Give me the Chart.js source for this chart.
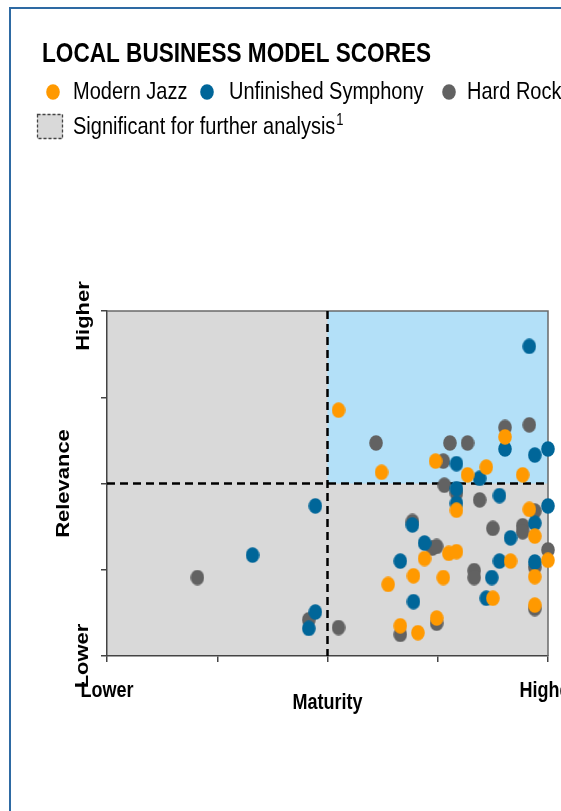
<!DOCTYPE html>
<html>
<head>
<meta charset="utf-8">
<script src="https://cdn.jsdelivr.net/npm/chart.js@4/dist/chart.umd.min.js"></script>
<style>
  html, body { margin: 0; padding: 0; background: #ffffff; overflow: hidden; }
  canvas { display: block; }
</style>
</head>
<body>
<canvas id="scores" width="561" height="811"></canvas>
<script>
// ---- data -------------------------------------------------------------
const chartTitle = 'LOCAL BUSINESS MODEL SCORES';
const seriesNames = ['Modern Jazz', 'Unfinished Symphony', 'Hard Rock'];
const seriesColors = ['#FF9900', '#006699', '#626262'];
const noteLabel = 'Significant for further analysis';
const noteMark = '1';

const xTickLabels = ['Lower', 'Higher'];
const yTickLabels = ['Lower', 'Higher'];
const xAxisTitle = 'Maturity';
const yAxisTitle = 'Relevance';

// maturity (x) and relevance (y) scores, scale 0..4
const modernJazzX = [2.10, 2.49, 2.98, 3.27, 3.44, 3.61, 3.77, 3.17, 3.83, 3.88, 4.00, 3.66,
                     3.88, 3.50, 3.88, 2.88, 3.10, 3.17, 2.78, 3.05, 2.55, 2.66, 2.82, 2.99];
const modernJazzY = [2.85, 2.13, 2.26, 2.10, 2.19, 2.54, 2.10, 1.69, 1.70, 1.39, 1.11, 1.10,
                     0.92, 0.67, 0.59, 1.13, 1.19, 1.21, 0.93, 0.91, 0.83, 0.35, 0.27, 0.44];

const symphonyX = [3.83, 3.61, 3.88, 4.00, 3.17, 3.38, 3.17, 3.17, 3.56, 4.00, 3.88, 3.66,
                   3.56, 3.88, 3.49, 3.44, 2.77, 2.88, 2.66, 2.78, 1.89, 1.32, 1.89, 1.83];
const symphonyY = [3.59, 2.40, 2.33, 2.40, 2.23, 2.06, 1.94, 1.77, 1.86, 1.74, 1.54, 1.37,
                   1.10, 1.09, 0.91, 0.67, 1.52, 1.31, 1.10, 0.63, 1.74, 1.17, 0.51, 0.32];

const hardRockX = [2.44, 3.11, 3.27, 3.05, 3.61, 3.83, 3.06, 3.17, 3.38, 3.88, 3.77, 3.77, 3.50,
                   4.00, 3.88, 3.33, 3.33, 3.88, 2.77, 2.95, 2.99, 2.66, 2.99, 2.10, 0.82, 1.83];
const hardRockY = [2.47, 2.47, 2.47, 2.26, 2.65, 2.68, 1.98, 1.89, 1.81, 1.68, 1.51, 1.44, 1.48,
                   1.23, 1.03, 0.99, 0.91, 0.55, 1.56, 1.25, 1.27, 0.25, 0.38, 0.33, 0.91, 0.42];

const axisMin = 0, axisMax = 4, threshold = 2;

// ---- helpers ----------------------------------------------------------
const FONT = '"Liberation Sans", Arial, sans-serif';
const STRETCH = 1.22; // glyphs are drawn slightly taller than wide

function zip(xs, ys) { return xs.map((x, i) => ({ x, y: ys[i] })); }

function dotSprite(color) {
  const w = 14, h = 16;
  const c = document.createElement('canvas');
  c.width = w; c.height = h;
  const g = c.getContext('2d');
  g.fillStyle = color;
  g.beginPath();
  g.ellipse(w / 2, h / 2, w / 2 - 0.2, h / 2 - 0.2, 0, 0, Math.PI * 2);
  g.fill();
  return c;
}
const sprites = seriesColors.map(dotSprite);

function text(ctx, str, x, y, font, align, rotated) {
  ctx.save();
  ctx.translate(x, y);
  if (rotated) { ctx.rotate(-Math.PI / 2); ctx.scale(STRETCH, 1); }
  else { ctx.scale(1, STRETCH); }
  ctx.font = font;
  ctx.textAlign = align;
  ctx.textBaseline = 'alphabetic';
  ctx.fillStyle = '#000000';
  ctx.fillText(str, 0, 0);
  ctx.restore();
}

// ---- plugin: frame, quadrants, header and axis captions ----------------
const matrixPlugin = {
  id: 'matrix',
  beforeDraw(chart) {
    const { ctx, scales: { x, y } } = chart;
    // outer frame
    ctx.save();
    ctx.strokeStyle = '#2E6AA3';
    ctx.lineWidth = 2;
    ctx.beginPath();
    ctx.moveTo(10, 811); ctx.lineTo(10, 8); ctx.lineTo(561, 8);
    ctx.stroke();

    // quadrant fills
    const l = x.getPixelForValue(axisMin), r = x.getPixelForValue(axisMax);
    const t = y.getPixelForValue(axisMax), b = y.getPixelForValue(axisMin);
    const mx = x.getPixelForValue(threshold), my = y.getPixelForValue(threshold);
    ctx.fillStyle = '#D9D9D9';
    ctx.fillRect(l, t, r - l, b - t);
    ctx.fillStyle = '#B3E0F8';
    ctx.fillRect(mx, t, r - mx, my - t);
    ctx.restore();
  },
  beforeDatasetsDraw(chart) {
    const { ctx, scales: { x, y } } = chart;
    const l = x.getPixelForValue(axisMin), r = x.getPixelForValue(axisMax);
    const t = y.getPixelForValue(axisMax), b = y.getPixelForValue(axisMin);
    const mx = x.getPixelForValue(threshold), my = y.getPixelForValue(threshold);
    ctx.save();
    // top and right edges of the plot
    ctx.strokeStyle = '#6A6A6A';
    ctx.lineWidth = 1.5;
    ctx.beginPath();
    ctx.moveTo(l, t); ctx.lineTo(r, t); ctx.lineTo(r, b);
    ctx.stroke();
    // threshold lines
    ctx.strokeStyle = '#000000';
    ctx.lineWidth = 2.5;
    ctx.setLineDash([8, 5]);
    ctx.beginPath();
    ctx.moveTo(l, my); ctx.lineTo(r, my);
    ctx.moveTo(mx, t); ctx.lineTo(mx, b);
    ctx.stroke();
    ctx.restore();
  },
  afterDraw(chart) {
    const { ctx, scales: { x, y } } = chart;
    ctx.save();
    // title
    text(ctx, chartTitle, 42, 62, 'bold 22.6px ' + FONT, 'left', false);

    // series legend
    const dotX = [53, 207, 449], labelX = [73, 229, 467];
    seriesNames.forEach((name, i) => {
      ctx.drawImage(sprites[i], dotX[i] - 7, 92 - 8);
      text(ctx, name, labelX[i], 99, '20px ' + FONT, 'left', false);
    });

    // highlighted-area legend
    ctx.fillStyle = '#D9D9D9';
    ctx.fillRect(37, 114, 26, 25);
    ctx.strokeStyle = '#444444';
    ctx.lineWidth = 1.3;
    ctx.setLineDash([3, 2]);
    ctx.strokeRect(37.5, 114.5, 25, 24);
    ctx.setLineDash([]);
    text(ctx, noteLabel, 73, 134, '20px ' + FONT, 'left', false);
    ctx.font = '20px ' + FONT;
    const w = ctx.measureText(noteLabel).width;
    text(ctx, noteMark, 73 + w + 1, 125, '13px ' + FONT, 'left', false);

    // axis captions
    const bold = 'bold 18px ' + FONT;
    text(ctx, xTickLabels[0], x.getPixelForValue(axisMin), 697, bold, 'center', false);
    text(ctx, xTickLabels[1], x.getPixelForValue(axisMax), 697, bold, 'center', false);
    text(ctx, xAxisTitle, x.getPixelForValue(threshold), 709, bold, 'center', false);
    text(ctx, yTickLabels[0], 88, y.getPixelForValue(axisMin), bold, 'center', true);
    text(ctx, yTickLabels[1], 89, y.getPixelForValue(axisMax) + 5, bold, 'center', true);
    text(ctx, yAxisTitle, 69, y.getPixelForValue(threshold), bold, 'center', true);
    ctx.restore();
  }
};

// ---- chart -------------------------------------------------------------
const series = [zip(modernJazzX, modernJazzY), zip(symphonyX, symphonyY), zip(hardRockX, hardRockY)];

new Chart(document.getElementById('scores'), {
  type: 'scatter',
  data: {
    datasets: series.map((pts, i) => ({
      label: seriesNames[i],
      data: pts,
      pointStyle: sprites[i],
      backgroundColor: seriesColors[i],
      borderColor: seriesColors[i],
      pointRadius: 7,
      pointHoverRadius: 7,
      clip: false
    }))
  },
  options: {
    responsive: false,
    animation: false,
    devicePixelRatio: 1,
    events: [],
    layout: { padding: { top: 311, right: 13, bottom: 0, left: 0 } },
    plugins: {
      legend: { display: false },
      tooltip: { enabled: false },
      title: { display: false }
    },
    scales: {
      x: {
        type: 'linear', min: axisMin, max: axisMax,
        ticks: { display: false, stepSize: 1 },
        grid: { drawOnChartArea: false, drawTicks: true, tickLength: 6, color: '#444444', lineWidth: 1.5 },
        border: { display: true, color: '#444444', width: 1.5 },
        afterFit(s) { s.height = 155; }
      },
      y: {
        type: 'linear', min: axisMin, max: axisMax,
        ticks: { display: false, stepSize: 1 },
        grid: { drawOnChartArea: false, drawTicks: true, tickLength: 6, color: '#444444', lineWidth: 1.5 },
        border: { display: true, color: '#444444', width: 1.5 },
        afterFit(s) { s.width = 107; }
      }
    }
  },
  plugins: [matrixPlugin]
});
</script>
</body>
</html>
